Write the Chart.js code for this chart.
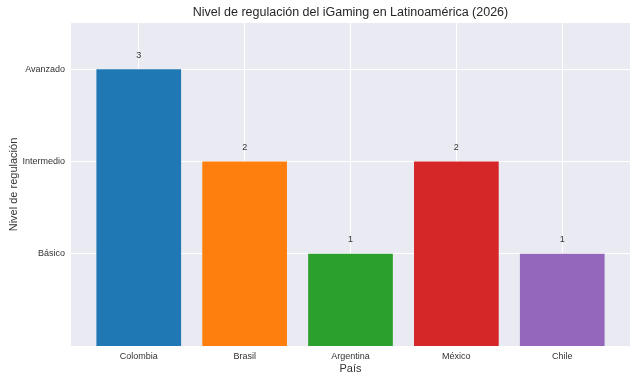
<!DOCTYPE html>
<html>
<head>
<meta charset="utf-8">
<script src="https://cdn.jsdelivr.net/npm/chart.js@4.4.1/dist/chart.umd.min.js"></script>
<style>
  html, body { margin: 0; padding: 0; background: #fff; }
  #wrap { width: 640px; height: 384px; }
</style>
</head>
<body>
<div id="wrap"><canvas id="regChart"></canvas></div>
<script>
// Datos del gráfico
const paises = ['Colombia', 'Brasil', 'Argentina', 'México', 'Chile'];
const niveles = [3, 2, 1, 2, 1];
const nivelTicks = [1, 2, 3];
const nivelNombres = ['Básico', 'Intermedio', 'Avanzado'];
const colores = ['#1f77b4', '#ff7f0e', '#2ca02c', '#d62728', '#9467bd'];
const titulo = 'Nivel de regulación del iGaming en Latinoamérica (2026)';

Chart.defaults.font.family = '"Liberation Sans", Arial, sans-serif';
Chart.defaults.color = '#333333';

// fondo gris estilo seaborn + título centrado sobre el área del gráfico
const fondoPlugin = {
    id: 'fondo',
    beforeDraw(chart) {
        const { ctx, chartArea: a } = chart;
        ctx.save();
        ctx.fillStyle = '#eaeaf2';
        ctx.fillRect(a.left, a.top, a.right - a.left, a.bottom - a.top);
        ctx.font = '12.5px "Liberation Sans", Arial, sans-serif';
        ctx.fillStyle = '#262626';
        ctx.textAlign = 'center';
        ctx.textBaseline = 'middle';
        ctx.fillText(titulo, (a.left + a.right) / 2, 13);
        ctx.restore();
    }
};

// etiquetas de valor encima de cada barra
const etiquetasPlugin = {
    id: 'etiquetas',
    afterDatasetsDraw(chart) {
        const { ctx } = chart;
        const yScale = chart.scales.y;
        const meta = chart.getDatasetMeta(0);
        ctx.save();
        ctx.font = '9px "Liberation Sans", Arial, sans-serif';
        ctx.fillStyle = '#333333';
        ctx.textAlign = 'center';
        ctx.textBaseline = 'bottom';
        meta.data.forEach((bar, i) => {
            ctx.fillText(String(niveles[i]), bar.x, yScale.getPixelForValue(niveles[i] + 0.1));
        });
        ctx.restore();
    }
};

const ctx = document.getElementById('regChart');
new Chart(ctx.getContext('2d'), {
    type: 'bar',
    data: {
        datasets: [{
            data: niveles.map((v, i) => ({ x: i, y: v })),
            backgroundColor: colores,
            borderWidth: 0,
            barPercentage: 0.8,
            categoryPercentage: 1.0
        }]
    },
    options: {
        responsive: true,
        maintainAspectRatio: false,
        animation: false,
        layout: { padding: { left: 0, right: 10, top: 23, bottom: 0 } },
        plugins: {
            legend: { display: false },
            tooltip: { enabled: false },
            title: { display: false }
        },
        scales: {
            x: {
                type: 'linear',
                offset: false,
                min: -0.64,
                max: 4.64,
                afterBuildTicks(scale) {
                    scale.ticks = paises.map((p, i) => ({ value: i }));
                },
                afterFit(scale) { scale.height = 38; },
                ticks: {
                    padding: 5,
                    font: { size: 9 },
                    color: '#333333',
                    autoSkip: false,
                    maxRotation: 0,
                    callback: (v) => paises[v]
                },
                grid: { color: '#ffffff', lineWidth: 1, drawTicks: false, offset: false },
                border: { display: false },
                title: {
                    display: true,
                    text: 'País',
                    color: '#333333',
                    font: { size: 11 },
                    padding: { top: 0, bottom: 8 }
                }
            },
            y: {
                min: 0,
                max: 3.5,
                afterBuildTicks(scale) {
                    scale.ticks = nivelTicks.map(v => ({ value: v }));
                },
                afterFit(scale) { scale.width = 71; },
                ticks: {
                    padding: 6,
                    font: { size: 9 },
                    color: '#333333',
                    callback: (v) => nivelNombres[nivelTicks.indexOf(v)]
                },
                grid: { color: '#ffffff', lineWidth: 1, drawTicks: false },
                border: { display: false },
                title: {
                    display: true,
                    text: 'Nivel de regulación',
                    color: '#333333',
                    font: { size: 11 },
                    padding: { top: 7, bottom: 0 }
                }
            }
        }
    },
    plugins: [fondoPlugin, etiquetasPlugin]
});
</script>
</body>
</html>
